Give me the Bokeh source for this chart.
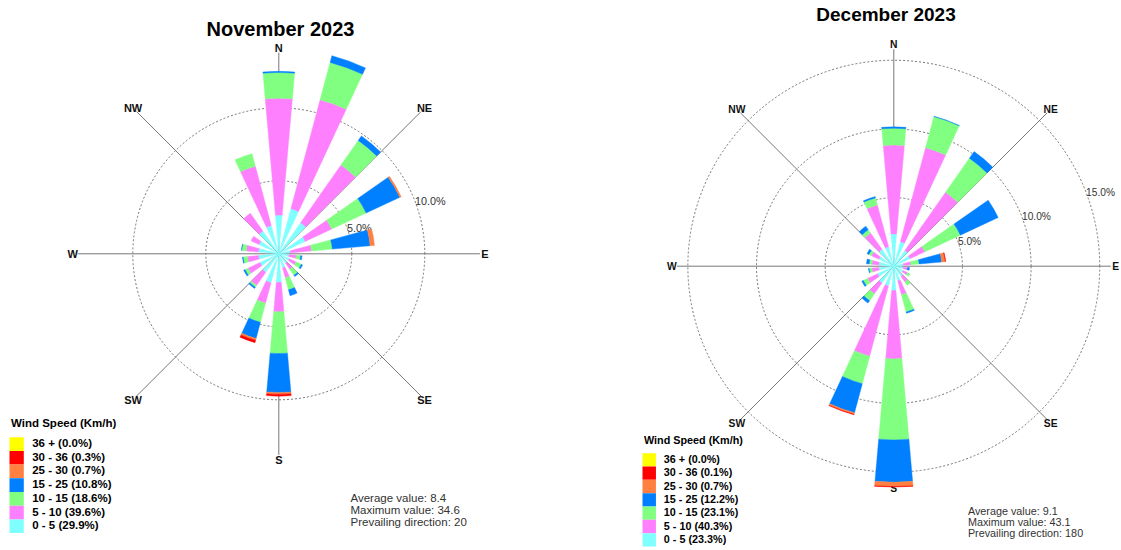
import numpy as np
from bokeh.plotting import figure
from bokeh.layouts import row
from bokeh.models import Range1d
from bokeh.core.properties import value
from bokeh.embed import file_html
from bokeh.resources import INLINE

# ---------------------------------------------------------------- data
# 18 direction sectors (degrees clockwise from north)
directions = [0, 20, 40, 60, 80, 100, 120, 140, 160, 180, 200, 220, 240, 260, 280, 300, 320, 340]

# speed classes, listed from the centre outwards
speed_classes = ["0 - 5", "5 - 10", "10 - 15", "15 - 25", "25 - 30", "30 - 36", "36 +"]
speed_colors = ["#80FFFF", "#FF80FF", "#80FF80", "#0080FF", "#FF8040", "#FF0000", "#FFFF00"]

# November 2023: frequency (%) per sector and speed class
nov_0_5 = [2.65, 3.20, 2.60, 2.00, 0.80, 0.70, 0.80, 0.80, 1.00, 1.96, 2.05, 1.55, 1.43, 1.40, 1.40, 1.50, 1.90, 2.00]
nov_5_10 = [8.01, 7.73, 4.83, 2.00, 1.45, 0.50, 0.50, 0.50, 0.70, 2.01, 1.45, 1.10, 0.90, 0.75, 0.85, 0.60, 1.50, 4.20]
nov_10_15 = [1.76, 2.64, 2.05, 2.60, 1.43, 0.30, 0.40, 0.50, 0.85, 2.86, 1.36, 0.15, 0.22, 0.30, 0.30, 0.00, 0.00, 0.90]
nov_15_25 = [0.08, 0.48, 0.38, 2.55, 2.60, 0.10, 0.10, 0.10, 0.42, 2.67, 1.14, 0.10, 0.10, 0.05, 0.02, 0.00, 0.00, 0.00]
nov_25_30 = [0.00, 0.00, 0.00, 0.10, 0.30, 0.00, 0.00, 0.00, 0.00, 0.12, 0.13, 0.00, 0.00, 0.00, 0.00, 0.00, 0.00, 0.00]
nov_30_36 = [0.00, 0.00, 0.00, 0.00, 0.00, 0.00, 0.00, 0.00, 0.00, 0.13, 0.17, 0.00, 0.00, 0.00, 0.00, 0.00, 0.00, 0.00]
nov_36_up = [0.0] * 18
nov_class_share = [29.9, 39.6, 18.6, 10.8, 0.7, 0.3, 0.0]
nov_average = 8.4
nov_maximum = 34.6
nov_prevailing = 20

# December 2023
dec_0_5 = [2.35, 1.85, 1.40, 1.30, 0.70, 0.70, 0.75, 0.90, 1.10, 1.77, 1.50, 1.50, 1.30, 1.10, 1.10, 1.20, 1.50, 1.47]
dec_5_10 = [6.48, 7.09, 5.18, 1.20, 0.55, 0.30, 0.35, 0.50, 1.05, 4.98, 5.29, 0.96, 0.80, 0.50, 0.50, 0.60, 1.46, 3.15]
dec_10_15 = [1.22, 2.34, 3.02, 2.85, 0.60, 0.00, 0.20, 0.30, 1.30, 5.90, 2.07, 0.61, 0.35, 0.20, 0.20, 0.20, 0.29, 0.53]
dec_15_25 = [0.10, 0.03, 0.60, 3.04, 1.65, 0.15, 0.00, 0.00, 0.10, 3.08, 2.19, 0.21, 0.12, 0.05, 0.20, 0.15, 0.31, 0.10]
dec_25_30 = [0.00, 0.00, 0.00, 0.00, 0.26, 0.00, 0.00, 0.00, 0.00, 0.32, 0.12, 0.00, 0.00, 0.00, 0.00, 0.00, 0.00, 0.00]
dec_30_36 = [0.00, 0.00, 0.00, 0.00, 0.03, 0.00, 0.00, 0.00, 0.00, 0.04, 0.03, 0.00, 0.00, 0.00, 0.00, 0.00, 0.00, 0.00]
dec_36_up = [0.0] * 18
dec_class_share = [23.3, 40.3, 23.1, 12.2, 0.7, 0.1, 0.0]
dec_average = 9.1
dec_maximum = 43.1
dec_prevailing = 180

compass_names = ["N", "NE", "E", "SE", "S", "SW", "W", "NW"]
compass_angles = [0, 45, 90, 135, 180, 225, 270, 315]

FONT = value("Liberation Sans")
SECTOR_WIDTH = 10.0  # degrees


def make_panel(width, height, left_px, cx, cy, px_per_pct):
    """Figure whose data units are percent, centred on the rose origin."""
    x0 = -(cx - left_px) / px_per_pct
    x1 = (left_px + width - cx) / px_per_pct
    y1 = cy / px_per_pct
    y0 = -(height - cy) / px_per_pct
    p = figure(width=width, height=height, x_range=Range1d(x0, x1), y_range=Range1d(y0, y1),
               output_backend="svg", toolbar_location=None, min_border=0,
               x_axis_location=None, y_axis_location=None, outline_line_color=None)
    p.grid.visible = False
    p.background_fill_color = "white"
    p.border_fill_color = "white"

    def at(gx, gy):
        return (gx - cx) / px_per_pct, (cy - gy) / px_per_pct

    return p, at


def draw_rose(p, s, classes, title, title_xy, title_size, share,
              legend_xy, legend_step, legend_size, stats, stats_xy, stats_size, at):
    k_scale = s / 14.6
    totals = np.sum(np.array(classes), axis=0)
    r_max = float(totals.max())
    r_label = r_max + 1.0 / s
    r_line = r_label - 5.0 / s

    # range rings every 5 %
    rings = [v for v in range(5, 100, 5) if v < r_max]
    p.arc(x=[0] * len(rings), y=[0] * len(rings), radius=rings, start_angle=0, end_angle=2 * np.pi,
          line_color="#666666", line_width=0.9, line_dash="2 2")
    ring_ang = np.radians(90 - 69)
    p.text(x=[r * np.cos(ring_ang) for r in rings], y=[r * np.sin(ring_ang) for r in rings],
           text=[f"{r:.1f}%" for r in rings], text_font=FONT, text_font_size=f"{10.8 * k_scale:.1f}px",
           text_color="#333333", text_align="left", text_baseline="middle")

    # compass spokes and names
    th = np.radians(90 - np.array(compass_angles))
    p.segment(x0=[0] * 8, y0=[0] * 8, x1=list(r_line * np.cos(th)), y1=list(r_line * np.sin(th)),
              line_color="#777777", line_width=1)
    p.text(x=list(r_label * np.cos(th)), y=list(r_label * np.sin(th)), text=compass_names,
           text_font=FONT, text_font_style="bold", text_font_size=f"{11 * k_scale:.1f}px",
           text_color="#111111", text_align="center", text_baseline="middle")

    # stacked sectors
    d = np.array(directions, dtype=float)
    start = np.radians(90 - d - SECTOR_WIDTH / 2)
    end = np.radians(90 - d + SECTOR_WIDTH / 2)
    cum = np.zeros(len(directions))
    for vals, col in zip(classes, speed_colors):
        vals = np.array(vals, dtype=float)
        m = vals > 0
        if m.any():
            p.annular_wedge(x=[0] * int(m.sum()), y=[0] * int(m.sum()),
                            inner_radius=list(cum[m]), outer_radius=list((cum + vals)[m]),
                            start_angle=list(start[m]), end_angle=list(end[m]),
                            fill_color=col, line_color=col, line_width=0.4)
        cum = cum + vals

    # title
    tx, ty = at(*title_xy)
    p.text(x=[tx], y=[ty], text=[title], text_font=FONT, text_font_style="bold",
           text_font_size=f"{title_size}px", text_color="black", text_align="center",
           text_baseline="alphabetic")

    # legend
    lx, ly = legend_xy
    hx, hy = at(lx + 1.5, ly - 14 * k_scale)
    p.text(x=[hx], y=[hy], text=["Wind Speed (Km/h)"], text_font=FONT, text_font_style="bold",
           text_font_size=f"{legend_size}px", text_color="black", text_align="left",
           text_baseline="middle")
    order = list(range(len(speed_classes)))[::-1]
    lefts, rights, tops, bottoms, cols, lab_x, lab_y, labs = [], [], [], [], [], [], [], []
    for k, i in enumerate(order):
        x_a, y_a = at(lx, ly + k * legend_step)
        x_b, y_b = at(lx + 14.3 * k_scale, ly + (k + 1) * legend_step)
        lefts.append(x_a); rights.append(x_b); tops.append(y_a); bottoms.append(y_b)
        cols.append(speed_colors[i])
        tx2, ty2 = at(lx + 22.7 * k_scale, ly + (k + 0.5) * legend_step - 1)
        lab_x.append(tx2); lab_y.append(ty2)
        labs.append(f"{speed_classes[i]} ({share[i]:.1f}%)")
    p.quad(left=lefts, right=rights, top=tops, bottom=bottoms, fill_color=cols, line_color=None)
    p.text(x=lab_x, y=lab_y, text=labs, text_font=FONT, text_font_style="bold",
           text_font_size=f"{legend_size}px", text_color="black", text_align="left",
           text_baseline="middle")

    # summary statistics
    sx, sy = stats_xy
    pts = [at(sx, sy + k * stats_size * 1.05) for k in range(len(stats))]
    p.text(x=[q[0] for q in pts], y=[q[1] for q in pts], text=stats, text_font=FONT,
           text_font_size=f"{stats_size}px", text_color="#333333", text_align="left",
           text_baseline="middle")


# November panel
S_L = 14.6
p1, at1 = make_panel(560, 550, 0, 278.3, 253.3, S_L)
draw_rose(p1, S_L,
          [nov_0_5, nov_5_10, nov_10_15, nov_15_25, nov_25_30, nov_30_36, nov_36_up],
          "November 2023", (280, 28.5), 20, nov_class_share,
          (9, 436.7), 13.7, 11.5,
          [f"Average value:  {nov_average}", f"Maximum value:  {nov_maximum}",
           f"Prevailing direction:  {nov_prevailing}"],
          (350, 497), 11.5, at1)

# December panel
S_R = 13.73
p2, at2 = make_panel(561, 550, 560, 893.3, 265.7, S_R)
draw_rose(p2, S_R,
          [dec_0_5, dec_5_10, dec_10_15, dec_15_25, dec_25_30, dec_30_36, dec_36_up],
          "December 2023", (885.5, 13.5), 19, dec_class_share,
          (642, 452.7), 13.33, 10.8,
          [f"Average value:  {dec_average}", f"Maximum value:  {dec_maximum}",
           f"Prevailing direction:  {dec_prevailing}"],
          (967.4, 510), 10.8, at2)

layout = row(p1, p2, spacing=0)
open("out.html", "w").write(file_html(layout, INLINE))
